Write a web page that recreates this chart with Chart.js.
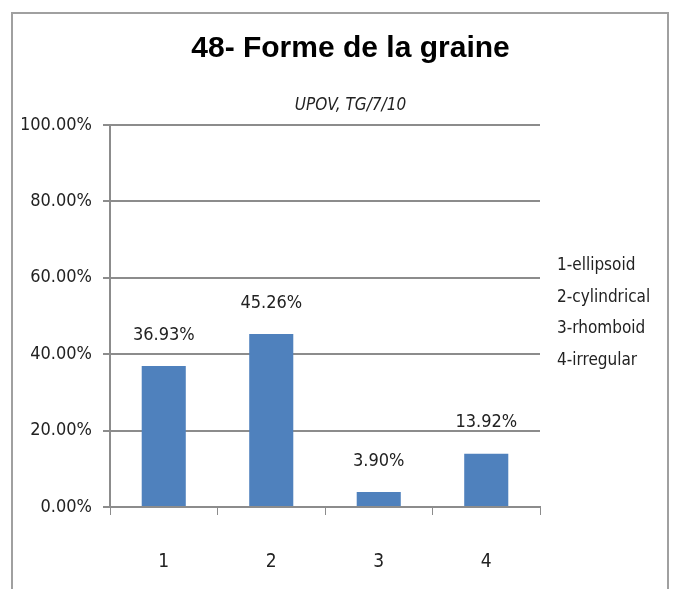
<!DOCTYPE html>
<html>
<head>
<meta charset="utf-8">
<script src="https://cdn.jsdelivr.net/npm/chart.js@4.4.1/dist/chart.umd.min.js"></script>
<style>
  body { margin: 0; background: #fff; }
  #wrap { width: 679px; height: 589px; }
</style>
</head>
<body>
<div id="wrap"><canvas id="chart" width="679" height="589"></canvas></div>
<script>
// données
const categories = ["1", "2", "3", "4"];
const values = [36.93, 45.26, 3.90, 13.92];
const valueLabels = ["36.93%", "45.26%", "3.90%", "13.92%"];
const legendItems = ["1-ellipsoid", "2-cylindrical", "3-rhomboid", "4-irregular"];

const narrow = "'Liberation Sans Narrow', 'DejaVu Sans Condensed', sans-serif";
const textColor = "#222";
const gridColor = "#8c8c8c";

// cadre, liste à droite et étiquettes des barres
const extras = {
  id: "extras",
  afterDatasetsDraw(chart) {
    const ctx = chart.ctx;
    ctx.save();

    // étiquettes au-dessus des barres
    ctx.font = "18px " + narrow;
    ctx.fillStyle = textColor;
    ctx.textAlign = "center";
    ctx.textBaseline = "middle";
    chart.getDatasetMeta(0).data.forEach((bar, i) => {
      ctx.fillText(valueLabels[i], bar.x, bar.y - 31);
    });

    // légende texte à droite
    ctx.font = "17px " + narrow;
    ctx.textAlign = "left";
    legendItems.forEach((t, i) => {
      ctx.fillText(t, 557, 266 + i * 31.5);
    });

    // cadre
    ctx.strokeStyle = "#a0a0a0";
    ctx.lineWidth = 2;
    ctx.beginPath();
    ctx.moveTo(12, 589);
    ctx.lineTo(12, 13);
    ctx.lineTo(668, 13);
    ctx.lineTo(668, 589);
    ctx.stroke();
    ctx.restore();
  }
};

new Chart(document.getElementById("chart"), {
  type: "bar",
  data: {
    labels: categories,
    datasets: [{
      data: values,
      backgroundColor: "#4f81bd",
      borderWidth: 0,
      barPercentage: 0.82,
      categoryPercentage: 0.5
    }]
  },
  options: {
    responsive: false,
    animation: false,
    layout: { padding: { left: 22, right: 0, top: 0, bottom: 0 } },
    plugins: {
      legend: { display: false },
      tooltip: { enabled: false },
      title: {
        display: true,
        text: "48- Forme de la graine",
        color: "#000",
        font: { family: "'Liberation Sans', Arial, sans-serif", size: 30, weight: "bold", lineHeight: 1.2 },
        padding: { top: 31, bottom: 28.8 }
      },
      subtitle: {
        display: true,
        text: "UPOV, TG/7/10",
        color: textColor,
        font: { family: narrow, size: 17, style: "italic", lineHeight: 1.2 },
        padding: { top: 0, bottom: 8.8 }
      }
    },
    scales: {
      x: {
        offset: true,
        grid: { display: true, drawOnChartArea: false, offset: true, color: gridColor, tickLength: 8 },
        border: { display: true, color: gridColor, width: 2 },
        ticks: { color: textColor, font: { family: narrow, size: 19 }, padding: 36 },
        afterFit: s => { s.height = 82; }
      },
      y: {
        min: 0,
        max: 100,
        ticks: {
          stepSize: 20,
          color: textColor,
          font: { family: narrow, size: 18 },
          padding: 11,
          callback: v => v.toFixed(2) + "%"
        },
        grid: { color: gridColor, lineWidth: 2, tickLength: 7 },
        border: { display: true, color: gridColor, width: 2 },
        afterFit: s => { s.width = 88; }
      },
      yR: {
        position: "right",
        display: true,
        grid: { display: false },
        ticks: { display: false },
        border: { display: false },
        afterFit: s => { s.width = 139; }
      }
    }
  },
  plugins: [extras]
});
</script>
</body>
</html>
